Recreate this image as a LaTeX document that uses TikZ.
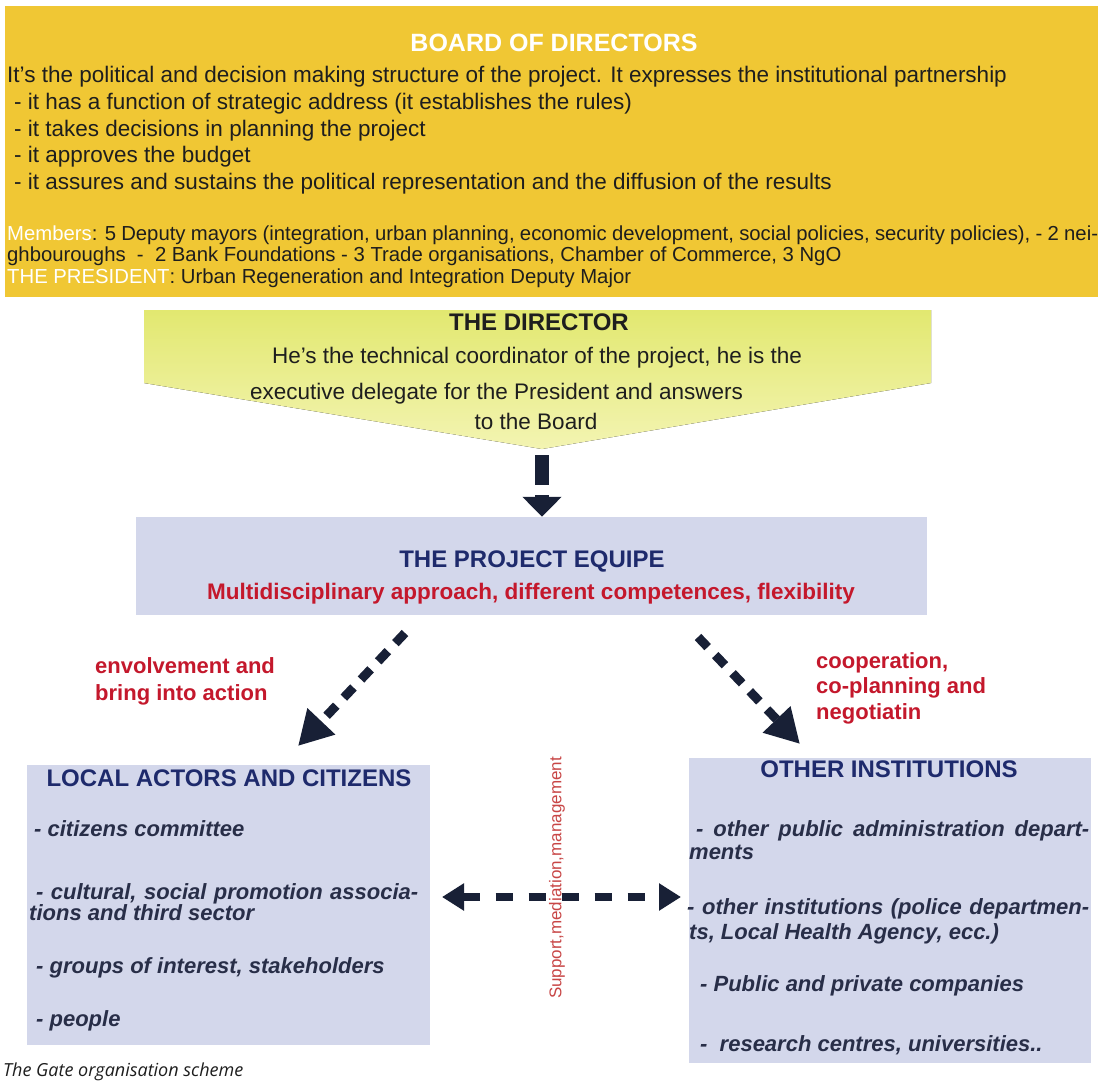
\documentclass[tikz,border=0pt]{standalone}
\usepackage{fontspec}
\setmainfont{Liberation Sans}
\newfontfamily\capfont{Open Sans}
\usetikzlibrary{arrows.meta}

\definecolor{boardfill}{RGB}{240,199,52}
\definecolor{dirtop}{RGB}{226,232,112}
\definecolor{dirbot}{RGB}{243,244,178}
\definecolor{lav}{RGB}{211,215,235}
\definecolor{navy}{RGB}{30,42,108}
\definecolor{redtxt}{RGB}{196,24,44}
\definecolor{supred}{RGB}{200,70,70}
\definecolor{arrowc}{RGB}{24,32,54}
\definecolor{itemc}{RGB}{40,46,72}
\definecolor{ink}{RGB}{30,30,30}

\tikzset{
  panel/.style={fill=#1, draw=none, inner sep=0pt},
  btxt/.style={inner sep=0pt, anchor=mid west, text=ink, font=\fontsize{22.5}{26}\selectfont},
  mtxt/.style={inner sep=0pt, anchor=mid west, text=ink, font=\fontsize{20.3}{24}\selectfont},
  dtxt/.style={inner sep=0pt, text=ink, font=\fontsize{22.5}{26}\selectfont},
  ttl/.style={inner sep=0pt, text=navy, font=\fontsize{24}{28}\selectfont\bfseries},
  item/.style={inner sep=0pt, anchor=mid west, text=itemc, font=\fontsize{22}{26}\selectfont\bfseries\itshape},
  lbl/.style={inner sep=0pt, anchor=mid west, text=redtxt, font=\fontsize{22}{26}\selectfont\bfseries},
  dasharrow/.style={draw=arrowc, line width=9pt, dash pattern=on 14pt off 11pt,
    -{Triangle[length=34pt,width=36pt]}},
}

\begin{document}
\begin{tikzpicture}[x=1pt,y=-1pt]
\useasboundingbox (0,0) rectangle (1103,1084);
\fill[white] (0,0) rectangle (1103,1084);

% board of directors
\node[panel=boardfill, minimum width=1093pt, minimum height=291pt] (board) at (551.5,151.5) {};
\node[inner sep=0pt, text=white, font=\fontsize{25}{29}\selectfont\bfseries] (boardttl) at (554,43) {BOARD OF DIRECTORS};
\node[btxt] (b1) at (7,80) {It’s the political and decision making structure of the project. It expresses the institutional partnership};
\node[btxt] (b2) at (14,107) {- it has a function of strategic address (it establishes the rules)};
\node[btxt] (b3) at (14,134) {- it takes decisions in planning the project};
\node[btxt] (b4) at (14,160) {- it approves the budget};
\node[btxt] (b5) at (14,187) {- it assures and sustains the political representation and the diffusion of the results};
\node[mtxt] (b6) at (7,238) {\makebox[1091pt][s]{\textcolor{white}{Members}: 5 Deputy mayors (integration, urban planning, economic development, social policies, security policies), - 2 nei-}};
\node[mtxt] (b7) at (7,259) {ghbouroughs \ - \ 2 Bank Foundations - 3 Trade organisations, Chamber of Commerce, 3 NgO};
\node[mtxt] (b8) at (7,281) {\textcolor{white}{THE PRESIDENT}: Urban Regeneration and Integration Deputy Major};

% the director
\fill[top color=dirtop, bottom color=dirbot] (144,310) -- (931,310) -- (931,383) -- (542,449) -- (144,383) -- cycle;
\node[dtxt, font=\fontsize{24}{28}\selectfont\bfseries] (director) at (539,322) {THE DIRECTOR};
\node[dtxt] (d1) at (537,358) {He’s the technical coordinator of the project, he is the};
\node[dtxt, anchor=mid west] (d2) at (250,397) {executive delegate for the President and answers};
\node[dtxt] (d3) at (536,421) {to the Board};

% the project equipe
\node[panel=lav, minimum width=791pt, minimum height=98pt] (equipe) at (531.5,566) {};
\node[ttl] (equipettl) at (532,561) {THE PROJECT EQUIPE};
\node[inner sep=0pt, text=redtxt, font=\fontsize{22.5}{26}\selectfont\bfseries] (equipesub) at (531,594) {Multidisciplinary approach, different competences, flexibility};

\coordinate (dtip) at (542,455);
\draw[draw=arrowc, line width=14pt, dash pattern=on 30pt off 10pt,
  -{Triangle[length=20pt,width=38pt]}] (dtip) -- (equipe.north -| dtip);

% local actors
\node[panel=lav, minimum width=403pt, minimum height=280pt] (local) at (228.5,905) {};
\node[ttl] (localttl) at (229,778) {LOCAL ACTORS AND CITIZENS};
\node[item] (l1) at (34,834) {- citizens committee};
\node[item] (l2) at (36,897) {\makebox[382pt][s]{- cultural, social promotion associa-}};
\node[item] (l3) at (29,918) {tions and third sector};
\node[item] (l4) at (36,971) {- groups of interest, stakeholders};
\node[item] (l5) at (36,1024) {- people};

% other institutions
\node[panel=lav, minimum width=402pt, minimum height=305pt] (other) at (890,910.5) {};
\node[ttl] (otherttl) at (889,769) {OTHER INSTITUTIONS};
\node[item] (o1) at (696,834) {\makebox[393pt][s]{- other public administration depart-}};
\node[item] (o2) at (689,857) {ments};
\node[item] (o3) at (687,912) {\makebox[402pt][s]{- other institutions (police departmen-}};
\node[item] (o4) at (689,937) {ts, Local Health Agency, ecc.)};
\node[item] (o5) at (700,989) {- Public and private companies};
\node[item] (o6) at (700,1049) {- \ research centres, universities..};

% connectors from the equipe
\coordinate (ls) at (405,633);
\coordinate (le) at (298,746);
\coordinate (rs) at (698,637);
\coordinate (re) at (800,744);
\draw[dasharrow] (ls) -- (le);
\draw[dasharrow] (rs) -- (re);
\node[lbl] (lab1) at (95,671) {envolvement and};
\node[lbl] (lab2) at (95,698) {bring into action};
\node[lbl] (lab3) at (816,666) {cooperation,};
\node[lbl] (lab4) at (816,691) {co-planning and};
\node[lbl] (lab5) at (816,717) {negotiatin};

% mutual relation between the two groups
\coordinate (hl) at (442,897);
\coordinate (hr) at (681,897);
\draw[draw=arrowc, line width=8pt, dash pattern=on 17pt off 16pt,
  {Triangle[length=22pt,width=26pt]}-{Triangle[length=22pt,width=26pt]}] (hl) -- (hr);
\node[rotate=90, inner sep=0pt, text=supred, font=\fontsize{17}{20}\selectfont] (support) at (557,878) {Support,mediation,management};

% caption
\node[inner sep=0pt, anchor=mid west, text=ink, font=\capfont\itshape\fontsize{18}{22}\selectfont] (caption) at (3,1074) {The Gate organisation scheme};
\end{tikzpicture}
\end{document}
